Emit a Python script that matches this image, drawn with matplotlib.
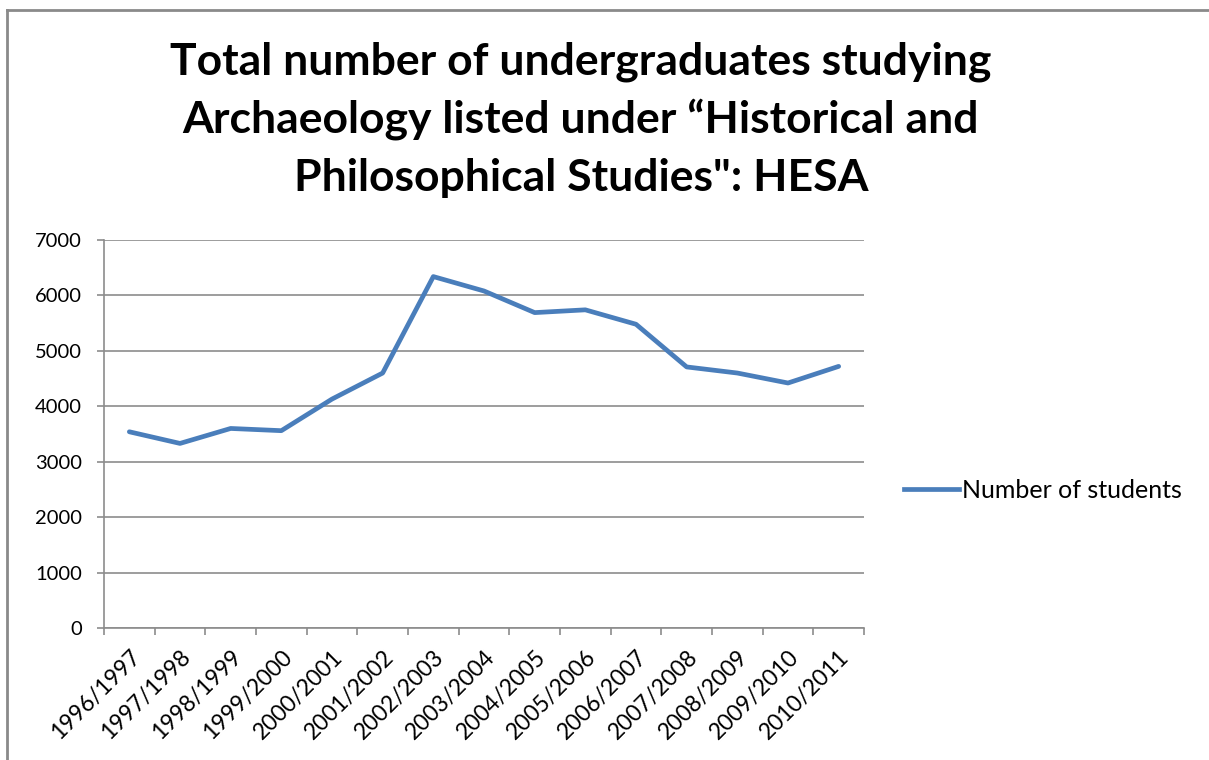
import matplotlib
matplotlib.use("Agg")
import matplotlib.pyplot as plt
from matplotlib.lines import Line2D

years = ["1996/1997", "1997/1998", "1998/1999", "1999/2000", "2000/2001",
         "2001/2002", "2002/2003", "2003/2004", "2004/2005", "2005/2006",
         "2006/2007", "2007/2008", "2008/2009", "2009/2010", "2010/2011"]
students = [3540, 3330, 3600, 3560, 4130, 4600, 6340, 6080, 5690, 5740,
            5480, 4710, 4600, 4420, 4720]
title_lines = ["Total number of undergraduates studying",
               "Archaeology listed under \u201cHistorical and",
               "Philosophical Studies\": HESA"]
series_name = "Number of students"

plt.rcParams['font.family'] = ['Lato', 'DejaVu Sans']

W, H = 1209, 760
fig = plt.figure(figsize=(W / 100, H / 100), dpi=100)
fig.patch.set_facecolor('white')

ax = fig.add_axes([104 / W, 1 - 628 / H, (864 - 104) / W, (628 - 240) / H])
x = list(range(len(years)))
ax.plot(x, students, color='#4A7EBB', lw=3.4, solid_capstyle='round',
        solid_joinstyle='round', label=series_name)

ax.set_xlim(-0.5, len(years) - 0.5)
ax.set_ylim(0, 7000)
ax.set_yticks(range(0, 7001, 1000))
ax.yaxis.grid(True, color='#8c8c8c', lw=1.2)
ax.set_axisbelow(True)
for s in ['top', 'right']:
    ax.spines[s].set_visible(False)
for s in ['left', 'bottom']:
    ax.spines[s].set_color('#8c8c8c')
    ax.spines[s].set_linewidth(1.2)

ax.set_xticks(x)
ax.set_xticklabels(years, rotation=45, ha='right', va='top',
                   rotation_mode='anchor', fontsize=16.5)
ax.tick_params(axis='x', which='major', length=0, pad=13)
ax.set_xticks([i - 0.5 for i in range(len(years) + 1)], minor=True)
ax.tick_params(axis='x', which='minor', length=5, color='#8c8c8c', width=1.2)
ax.tick_params(axis='y', length=5, color='#8c8c8c', width=1.2,
               labelsize=14.5, pad=11)

for i, line in enumerate(title_lines):
    fig.text(581 / W, 1 - (75 + 58 * i) / H, line, ha='center', va='baseline',
             fontsize=32, fontweight='bold')

fig.legend(handles=[Line2D([], [], color='#4A7EBB', lw=3.4)],
           labels=[series_name], loc='center left',
           bbox_to_anchor=(904 / W, 1 - 490 / H), frameon=False,
           fontsize=18, handlelength=2.2, handletextpad=0.12,
           borderpad=0, borderaxespad=0)

fig.add_artist(Line2D([7 / W, 1], [1 - 10 / H, 1 - 10 / H], color='#8a8a8a',
                      lw=2, transform=fig.transFigure))
fig.add_artist(Line2D([7 / W, 7 / W], [0, 1 - 10 / H], color='#8a8a8a',
                      lw=2, transform=fig.transFigure))

fig.savefig('out.png', dpi=100)
